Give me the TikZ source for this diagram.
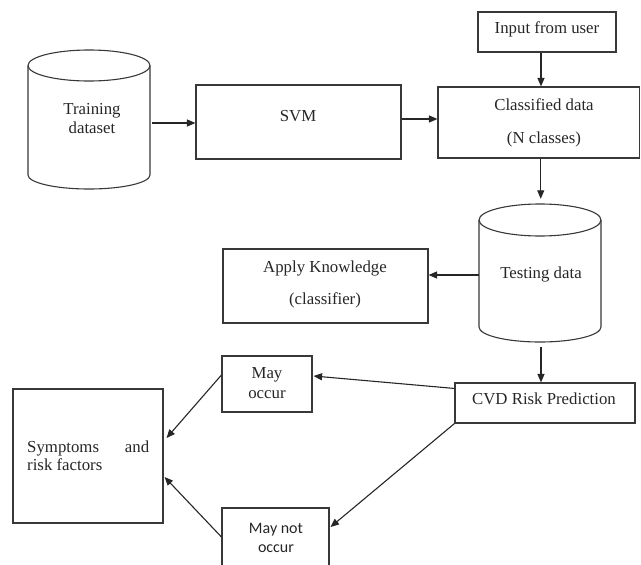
\documentclass[tikz,border=0pt]{standalone}
\usepackage{fontspec}
\setmainfont{Liberation Serif}
\newfontfamily\sansbody{Carlito}
\usetikzlibrary{arrows.meta}

\begin{document}
\begin{tikzpicture}[x=1pt,y=-1pt,
  outline/.style={draw=black!78,line width=1.1pt},
  box/.style={outline,rectangle,inner sep=0pt},
  hold/.style={rectangle,inner sep=0pt},
  lbl/.style={anchor=base,inner sep=0pt,text=black!85,
    font=\fontsize{16.8}{20}\selectfont},
  slbl/.style={lbl,font=\sansbody\fontsize{16}{19}\selectfont},
  arr/.style={draw=black!85,line width=1.1pt,
    -{Triangle[length=8.5pt,width=7pt]}},
]
\useasboundingbox (0,0) rectangle (641,565);
\clip (0,0) rectangle (641,565);

% ---------- rectangular blocks ----------
\node[box,minimum width=138pt,minimum height=40pt]   (input)  at (547,32)     {};
\node[box,minimum width=201.5pt,minimum height=71pt] (cls)    at (538.75,122.5) {};
\node[box,minimum width=205pt,minimum height=74pt]   (svm)    at (298.5,122)  {};
\node[box,minimum width=205pt,minimum height=74pt]   (apply)  at (325.5,286)  {};
\node[box,minimum width=180pt,minimum height=40pt]   (cvd)    at (545,403)    {};
\node[box,minimum width=90pt,minimum height=56pt]    (mayocc) at (267,384)    {};
\node[box,minimum width=107pt,minimum height=80pt]   (maynot) at (275.5,548)  {};
\node[box,minimum width=150pt,minimum height=134pt]  (sym)    at (88,456)     {};

% ---------- data stores (cylinders) ----------
\node[hold,minimum width=122pt,minimum height=100pt] (train) at (89,123) {};
\draw[outline] (89,65.5) ellipse [x radius=61pt, y radius=15.5pt];
\draw[outline] (28,65.5) -- (28,175)
  .. controls (28,182.7) and (55.3,189) .. (89,189)
  .. controls (122.7,189) and (150,182.7) .. (150,175) -- (150,65.5);

\node[hold,minimum width=122pt,minimum height=148pt] (test) at (540,273) {};
\draw[outline] (540,220) ellipse [x radius=61pt, y radius=16pt];
\draw[outline] (479,220) -- (479,327)
  .. controls (479,335.3) and (506.3,342) .. (540,342)
  .. controls (573.7,342) and (601,335.3) .. (601,327) -- (601,220);

% ---------- labels ----------
\node[lbl] (tInput) at (547,33)  {Input from user};
\node[lbl] (tCls1)  at (544,110) {Classified data};
\node[lbl] (tCls2)  at (544,143) {(N classes)};
\node[lbl] (tSvm)   at (298,121) {SVM};
\node[lbl] (tTr1)   at (92,114)  {Training};
\node[lbl] (tTr2)   at (92,133)  {dataset};
\node[lbl] (tTest)  at (541,278) {Testing data};
\node[lbl] (tApp1)  at (325,272) {Apply Knowledge};
\node[lbl] (tApp2)  at (325,304) {(classifier)};
\node[lbl] (tCvd)   at (544,404) {CVD Risk Prediction};
\node[lbl] (tMo1)   at (267,378) {May};
\node[lbl] (tMo2)   at (267,398) {occur};
\node[slbl] (tMn1)  at (276,533) {May not};
\node[slbl] (tMn2)  at (276,552) {occur};
\node[lbl,anchor=base west] (tSym1) at (27,452) {\makebox[122pt][s]{Symptoms\hfill and}};
\node[lbl,anchor=base west] (tSym2) at (27,470) {risk factors};

% ---------- connectors ----------
\draw[arr] ([xshift=2pt]train.east) -- (train.east -| svm.west);
\draw[arr] ([yshift=3pt]svm.east) -- ([yshift=3pt]svm.east -| cls.west);
\draw[arr] ([xshift=-6pt]input.south) -- ([xshift=-6pt]input.south |- cls.north);
\draw[arr] ([xshift=2pt]cls.south) -- ([xshift=2pt]cls.south |- test.north);
\draw[arr] ([yshift=-2pt]test.west) -- ([yshift=-2pt]test.west -| apply.east);
\draw[arr] ([xshift=1pt]test.south) -- ([xshift=1pt]test.south |- cvd.north);
\draw[arr] ([yshift=-6pt]cvd.north west) -- ([xshift=1pt,yshift=8pt]mayocc.east);
\draw[arr] (cvd.south west) -- ([xshift=1pt,yshift=21pt]maynot.east);
\draw[arr] ([yshift=9pt]mayocc.west) -- ([xshift=3pt,yshift=18pt]sym.east);
\draw[arr] ([yshift=11pt]maynot.west) -- ([xshift=1pt,yshift=-21pt]sym.east);
\end{tikzpicture}
\end{document}
